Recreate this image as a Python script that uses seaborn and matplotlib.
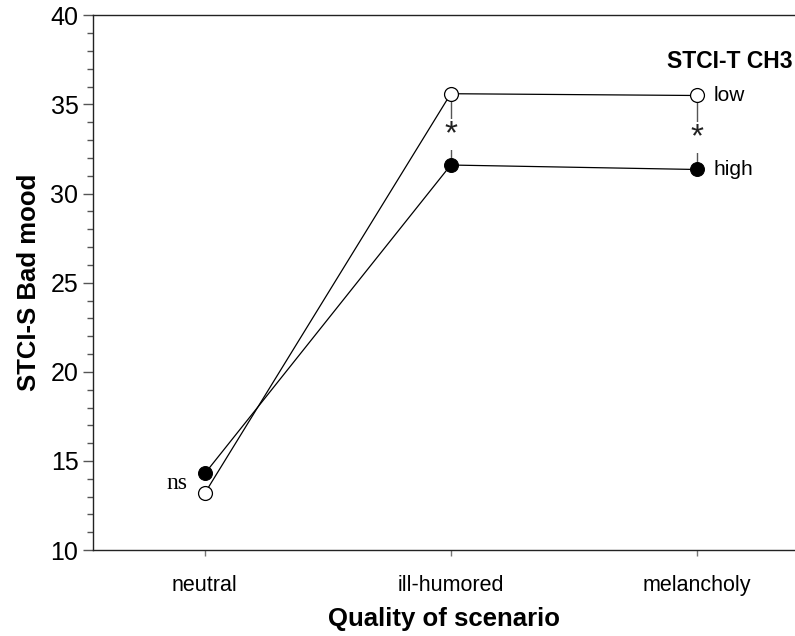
import pandas as pd
import seaborn as sns
import matplotlib.pyplot as plt
from matplotlib.ticker import MultipleLocator

scenarios = ["neutral", "ill-humored", "melancholy"]
low_vals = [13.2, 35.6, 35.5]
high_vals = [14.3, 31.6, 31.35]

df = pd.DataFrame({
    "scenario": scenarios * 2,
    "mood": low_vals + high_vals,
    "group": ["low"] * 3 + ["high"] * 3,
})

sns.set_style("ticks")
plt.rcParams['font.family'] = ['Liberation Sans', 'DejaVu Sans']
plt.rcParams['text.color'] = 'black'
plt.rcParams['axes.labelcolor'] = 'black'
plt.rcParams['xtick.labelcolor'] = 'black'
plt.rcParams['ytick.labelcolor'] = 'black'

fig = plt.figure(figsize=(7.95, 6.36), dpi=100)
ax = fig.add_axes([0.117, 0.135, 0.883, 0.841])

# significance markers between the two groups
for i in [1, 2]:
    ax.vlines(i, high_vals[i], low_vals[i], color="#555555", lw=1, zorder=1)
    ax.text(i, (high_vals[i] + low_vals[i]) / 2 - 0.3, "*", ha="center", va="center",
            fontsize=24, color="#222222",
            bbox=dict(facecolor="white", edgecolor="none", pad=0.0), zorder=2)

sns.lineplot(data=df[df.group == "low"], x="scenario", y="mood", color="black",
             lw=0.9, marker="o", markersize=10, markerfacecolor="white",
             markeredgecolor="black", markeredgewidth=0.9, ax=ax, zorder=3)
sns.lineplot(data=df[df.group == "high"], x="scenario", y="mood", color="black",
             lw=0.9, marker="o", markersize=10, markerfacecolor="black",
             markeredgecolor="black", ax=ax, zorder=3)

ax.text(2.07, low_vals[2], "low", va="center", ha="left", fontsize=15)
ax.text(2.07, high_vals[2], "high", va="center", ha="left", fontsize=15)
ax.text(2.39, 37.4, "STCI-T CH3", va="center", ha="right", fontsize=16.5, fontweight="bold")
ax.text(-0.07, 13.75, "ns", va="center", ha="right", fontsize=17, family="Liberation Serif")

ax.set_xlim(-0.455, 2.4)
ax.set_ylim(10, 40)
ax.yaxis.set_major_locator(MultipleLocator(5))
ax.yaxis.set_minor_locator(MultipleLocator(1))
ax.tick_params(axis="y", which="major", length=7, width=1, labelsize=18, color="#555555")
ax.tick_params(axis="y", which="minor", length=4, width=1, color="#555555")
ax.tick_params(axis="x", length=4, width=1, labelsize=15.5, color="#777777", pad=14)

for s in ["left", "top", "bottom"]:
    ax.spines[s].set_linewidth(1)
    ax.spines[s].set_color("#222222")
ax.spines["right"].set_visible(False)

ax.set_xlabel("Quality of scenario", fontsize=18.5, fontweight="bold", labelpad=8)
ax.set_ylabel("STCI-S Bad mood", fontsize=18.5, fontweight="bold", labelpad=7)
if ax.get_legend():
    ax.get_legend().remove()

fig.savefig("out.png", dpi=100)
